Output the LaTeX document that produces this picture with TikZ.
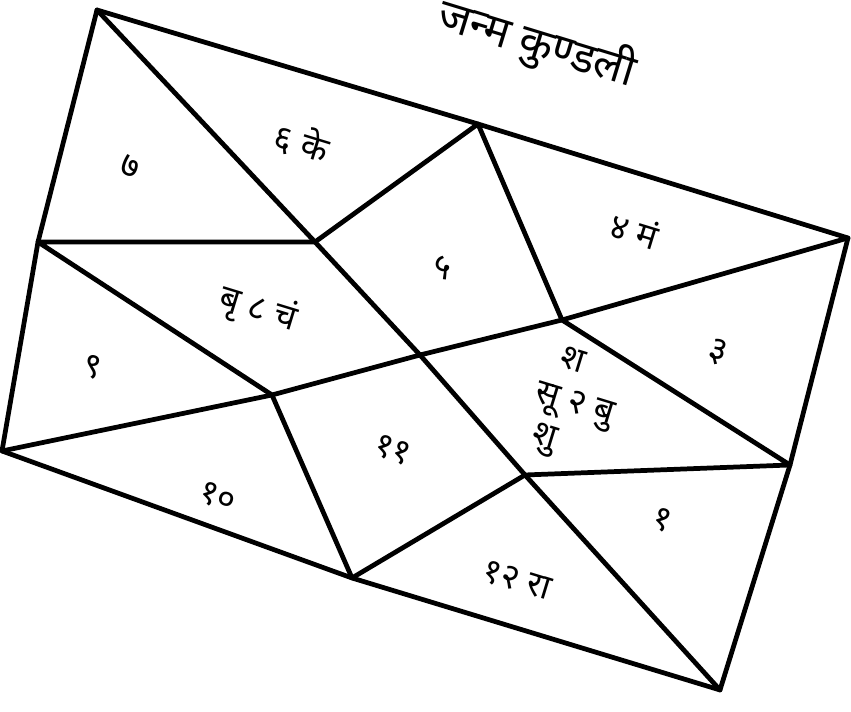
\documentclass[tikz,border=0pt]{standalone}
\usepackage{fontspec}
\newfontfamily\devfont[Script=Devanagari]{Noto Sans}
\usepackage{tikz}
\usetikzlibrary{positioning}

\begin{document}
\begin{tikzpicture}[
  chartline/.style={draw=black, line width=2.7pt, line join=round, line cap=round},
  hlbl/.style={font=\devfont\fontsize{20}{23}\selectfont, inner sep=1pt, rotate=-17},
  ttl/.style={font=\devfont\fontsize{25}{28}\selectfont, inner sep=1pt, rotate=-17}
]
\useasboundingbox (0,0) rectangle (17.02,14.24);

% corners and midpoints
\coordinate (tl) at (1.94, 14.04);
\coordinate (tm) at (9.56, 11.76);
\coordinate (tr) at (16.96, 9.48);
\coordinate (rm) at (15.80, 4.94);
\coordinate (br) at (14.40, 0.44);
\coordinate (bm) at (7.04, 2.68);
\coordinate (bl) at (0.04, 5.22);
\coordinate (lm) at (0.76, 9.40);
% inner crossings
\coordinate (i1) at (6.30, 9.40);
\coordinate (i2) at (11.24, 7.84);
\coordinate (i3) at (10.50, 4.74);
\coordinate (i4) at (5.44, 6.34);
\coordinate (c) at (8.40, 7.14);

\draw[chartline] (tl) -- (tm) -- (tr) -- (rm) -- (br) -- (bm) -- (bl) -- (lm) -- cycle;
\draw[chartline] (tl) -- (i1) -- (c) -- (i3) -- (br);
\draw[chartline] (tr) -- (i2) -- (c) -- (i4) -- (bl);
\draw[chartline] (tm) -- (i2) -- (rm) -- (i3) -- (bm) -- (i4) -- (lm) -- (i1) -- cycle;

\node[ttl] (title) at (10.74, 13.36) {जन्म कुण्डली};

\node[hlbl] (h5) at (8.84, 8.88) {५};
\node[hlbl] (h6) at (6.04, 11.40) {६ के};
\node[hlbl] (h7) at (2.60, 10.90) {७};
\node[hlbl] (h8) at (5.16, 8.04) {बृ ८ चं};
\node[hlbl] (h9) at (1.84, 6.90) {९};
\node[hlbl] (h10) at (4.36, 4.30) {१०};
\node[hlbl] (h11) at (7.86, 5.24) {११};
\node[hlbl] (h12) at (10.34, 2.64) {१२ रा};
\node[hlbl] (h1) at (13.24, 3.84) {१};
\node[hlbl, align=left] (h2) at (11.48, 6.10) {\hspace{0.4em}श\\सू २ बु\\\hspace{0.25em}शु};
\node[hlbl] (h3) at (14.36, 7.20) {३};
\node[hlbl] (h4) at (12.70, 9.64) {४ मं};

\end{tikzpicture}
\end{document}
